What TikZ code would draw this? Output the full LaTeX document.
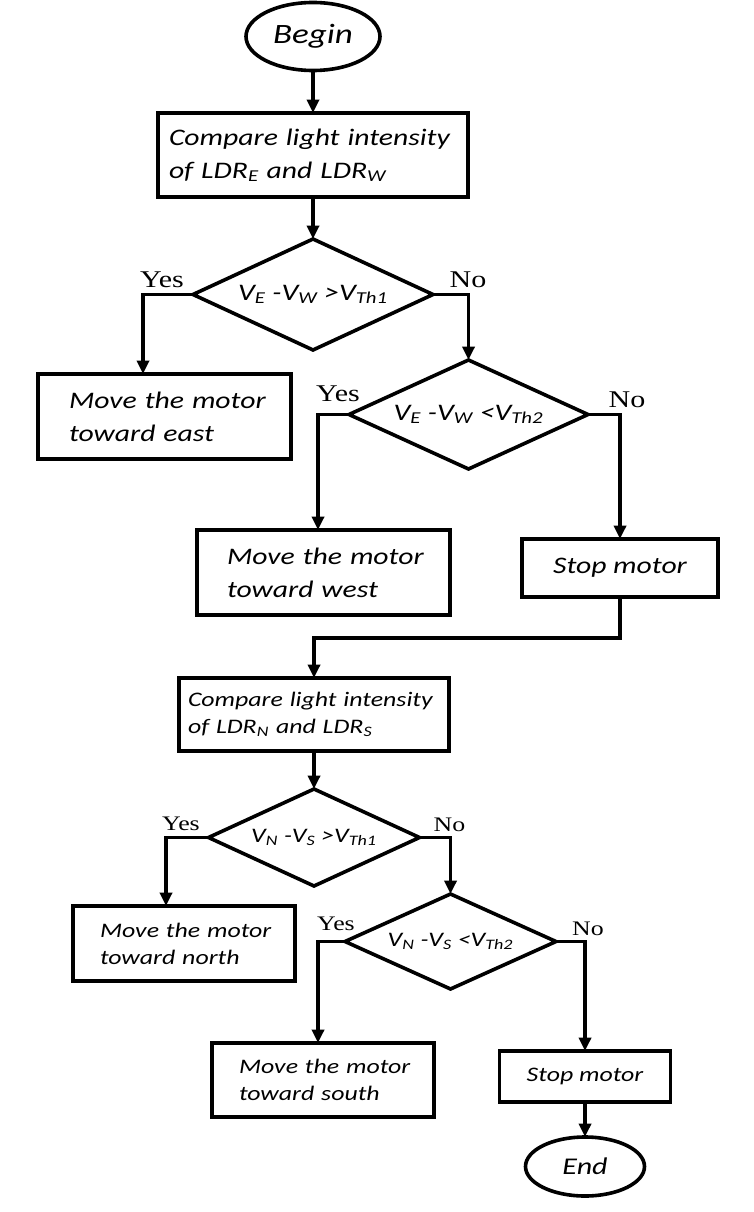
\documentclass[tikz,border=0pt]{standalone}
\usepackage{fontspec}
\newfontfamily\cfont[FakeStretch=1.25]{Carlito}
\newfontfamily\tfont[FakeStretch=1.25]{Liberation Serif}
\usetikzlibrary{shapes.geometric,arrows.meta,calc}
\begin{document}
\begin{tikzpicture}[x=0.75pt,y=-0.75pt,
  every node/.style={inner sep=0pt, outer sep=0pt},
  base/.style={draw, line width=2.7pt},
  procbox/.style={base, rectangle},
  termbox/.style={base, ellipse},
  decbox/.style={base, diamond},
  bigtxt/.style={font=\cfont\itshape\fontsize{17.8}{24.75}\selectfont},
  smalltxt/.style={font=\cfont\itshape\fontsize{15.5}{20.25}\selectfont},
  conn/.style={line width=2.7pt, -{Triangle[length=10pt,width=9pt]}},
  labbig/.style={font=\tfont\fontsize{18}{20}\selectfont, anchor=base},
  labsmall/.style={font=\tfont\fontsize{15.5}{18}\selectfont, anchor=base},
]
\useasboundingbox (0,0) rectangle (753,1212);

% nodes
\node[termbox, minimum width=100.5pt, minimum height=51pt,
      font=\cfont\itshape\fontsize{21}{24}\selectfont] (begin) at (313,36.5) {Begin};
\node[procbox, bigtxt, minimum width=232.5pt, minimum height=63pt, text width=216pt, align=left] (cmp1) at (313,155)
  {\mbox{Compare light intensity}\\\mbox{of LDR\textsubscript{E} and LDR\textsubscript{W}}};
\node[decbox, bigtxt, aspect=2.16, minimum width=180pt, minimum height=83.25pt] (d1) at (313,294.5)
  {V\textsubscript{E} -V\textsubscript{W} >V\textsubscript{Th1}};
\node[procbox, bigtxt, minimum width=189.75pt, minimum height=63.75pt, text width=143.25pt, align=left] (east) at (164.5,416.5)
  {\mbox{Move the motor}\\\mbox{toward east}};
\node[decbox, bigtxt, aspect=2.19, minimum width=179.25pt, minimum height=81.75pt] (d2) at (468.5,414.5)
  {V\textsubscript{E} -V\textsubscript{W} <V\textsubscript{Th2}};
\node[procbox, bigtxt, minimum width=189.75pt, minimum height=63.75pt, text width=144.75pt, align=left] (west) at (323.5,572.5)
  {\mbox{Move the motor}\\\mbox{toward west}};
\node[procbox, bigtxt, minimum width=147pt, minimum height=43.5pt, align=center] (stop1) at (620,568) {Stop motor};

\node[procbox, smalltxt, minimum width=202.5pt, minimum height=54.75pt, text width=189pt, align=left] (cmp2) at (314,714.5)
  {\mbox{Compare light intensity}\\\mbox{of LDR\textsubscript{N} and LDR\textsubscript{S}}};
\node[decbox, smalltxt, aspect=2.18, minimum width=158.25pt, minimum height=72.75pt] (d3) at (314,837.5)
  {V\textsubscript{N} -V\textsubscript{S} >V\textsubscript{Th1}};
\node[procbox, smalltxt, minimum width=166.5pt, minimum height=56.25pt, text width=126pt, align=left] (north) at (184,943.5)
  {\mbox{Move the motor}\\\mbox{toward north}};
\node[decbox, smalltxt, aspect=2.22, minimum width=158.25pt, minimum height=71.25pt] (d4) at (450.5,941.5)
  {V\textsubscript{N} -V\textsubscript{S} <V\textsubscript{Th2}};
\node[procbox, smalltxt, minimum width=166.5pt, minimum height=55.5pt, text width=126pt, align=left] (south) at (323,1080)
  {\mbox{Move the motor}\\\mbox{toward south}};
\node[procbox, smalltxt, minimum width=128.25pt, minimum height=38.25pt, align=center] (stop2) at (585,1076.5) {Stop motor};
\node[termbox, minimum width=89.25pt, minimum height=44.25pt,
      font=\cfont\itshape\fontsize{18}{21}\selectfont] (end) at (585,1166.5) {End};

% labels
\node[labbig] (y1) at (162,287) {Yes};
\node[labbig] (n1) at (468,287) {No};
\node[labbig] (y2) at (338,401) {Yes};
\node[labbig] (n2) at (627,407) {No};
\node[labsmall] (y3) at (181,830) {Yes};
\node[labsmall] (n3) at (449.5,831) {No};
\node[labsmall] (y4) at (336,930) {Yes};
\node[labsmall] (n4) at (588,935) {No};

% connectors
\draw[conn] (begin.south) -- (cmp1.north);
\draw[conn] (cmp1.south) -- (d1.north);
\draw[conn] (d1.west) -| ($(east.north)+(-21.5,0)$);
\draw[conn] (d1.east) -| (d2.north);
\draw[conn] (d2.west) -| ($(west.north)+(-5.5,0)$);
\draw[conn] (d2.east) -| (stop1.north);
\coordinate (turn) at ($(stop1.south)+(0,41)$);
\draw[conn] (stop1.south) -- (turn) -| (cmp2.north);
\draw[conn] (cmp2.south) -- (d3.north);
\draw[conn] (d3.west) -| ($(north.north)+(-18,0)$);
\draw[conn] (d3.east) -| (d4.north);
\draw[conn] (d4.west) -| ($(south.north)+(-5,0)$);
\draw[conn] (d4.east) -| (stop2.north);
\draw[conn] (stop2.south) -- (end.north);
\end{tikzpicture}
\end{document}
